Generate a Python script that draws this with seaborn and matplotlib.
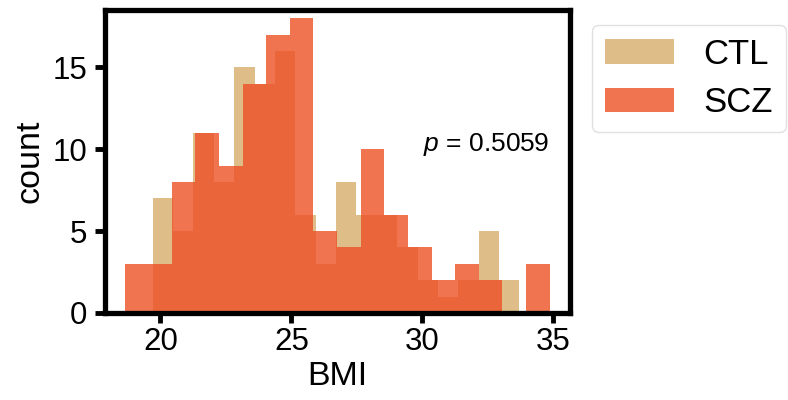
import numpy as np
import pandas as pd
import matplotlib
matplotlib.use("Agg")
import matplotlib.pyplot as plt
import seaborn as sns
from matplotlib.patches import Patch

# ---- data ----
groups = ["CTL", "SCZ"]
ctl_bin_range = (19.70, 33.72)   # 18 equal bins
scz_bin_range = (18.63, 34.87)   # 18 equal bins
n_bins = 18
ctl_counts = [7, 5, 11, 8, 15, 14, 16, 6, 3, 8, 6, 6, 4, 2, 1, 2, 5, 2]
scz_counts = [3, 3, 8, 11, 9, 14, 17, 18, 5, 4, 10, 6, 4, 2, 3, 2, 0, 3]
p_text = "0.5059"
x_label = "BMI"
y_label = "count"
x_ticks = [20, 25, 30, 35]
y_ticks = [0, 5, 10, 15]

colors = {"CTL": "#d6ad6c", "SCZ": "#ee5126"}
alpha = 0.8

sns.set_theme(style="white")
plt.rcParams["font.family"] = ["Liberation Sans", "DejaVu Sans"]
plt.rcParams["mathtext.fontset"] = "custom"
plt.rcParams["mathtext.it"] = "Liberation Sans:italic"
plt.rcParams["mathtext.rm"] = "Liberation Sans"
plt.rcParams["text.color"] = "black"
plt.rcParams["axes.labelcolor"] = "black"
plt.rcParams["xtick.color"] = "black"
plt.rcParams["ytick.color"] = "black"

fig = plt.figure(figsize=(7.88, 4.0), dpi=100)
ax = fig.add_axes([105 / 788, 1 - 313 / 400, 465 / 788, 303 / 400])

def make_df(counts, rng):
    edges = np.linspace(rng[0], rng[1], n_bins + 1)
    centers = (edges[:-1] + edges[1:]) / 2
    return pd.DataFrame({"x": centers, "w": np.asarray(counts, dtype=float)}), [float(e) for e in edges]

for g, counts, rng in [("CTL", ctl_counts, ctl_bin_range), ("SCZ", scz_counts, scz_bin_range)]:
    df, edges = make_df(counts, rng)
    sns.histplot(data=df, x="x", weights="w", bins=edges, color=colors[g],
                 alpha=alpha, linewidth=0, ax=ax)

ax.set_xlim(17.88, 35.65)
ax.set_ylim(0, 18.5)
ax.set_xticks(x_ticks)
ax.set_yticks(y_ticks)
ax.tick_params(axis="both", which="major", labelsize=22.5, length=7, width=3.5,
               direction="out", color="black", labelcolor="black", bottom=True, left=True)
ax.tick_params(axis="x", pad=3)
ax.tick_params(axis="y", pad=6)
for s in ax.spines.values():
    s.set_linewidth(3.8)
    s.set_color("black")
ax.set_xlabel(x_label, fontsize=24.5, labelpad=3, color="black")
ax.set_ylabel(y_label, fontsize=24.5, labelpad=5, color="black")

ax.text(30.02, 9.9, r"$p$ = " + p_text, fontsize=19, va="baseline", ha="left", color="black")

handles = [Patch(facecolor=colors[g], alpha=alpha, edgecolor="none", label=g) for g in groups]
leg = ax.legend(handles=handles, loc="upper left", bbox_to_anchor=(1.047, 0.952),
                borderaxespad=0, fontsize=25, handlelength=2.0, handleheight=0.72,
                handletextpad=0.84, labelspacing=0.44, borderpad=0.38, frameon=True,
                labelcolor="black")
leg.get_frame().set_edgecolor("0.85")

fig.savefig("out.png", dpi=100)
